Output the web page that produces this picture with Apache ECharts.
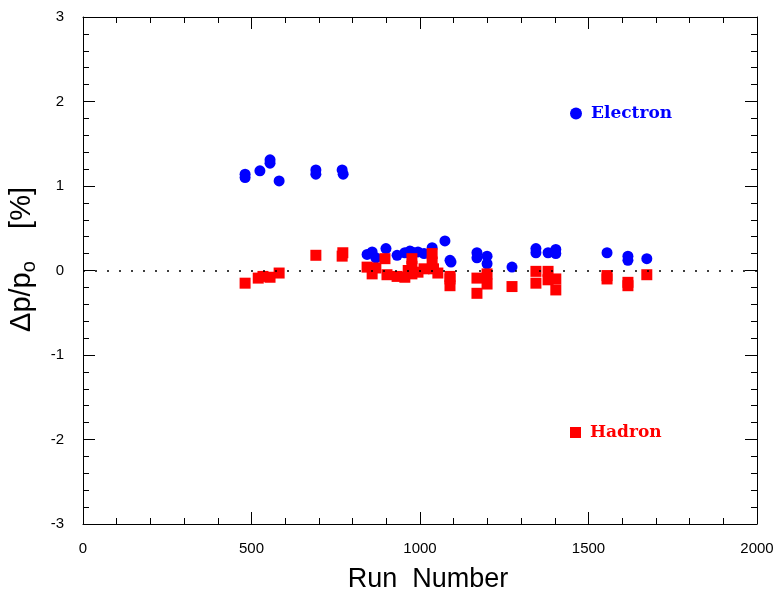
<!DOCTYPE html>
<html><head><meta charset="utf-8">
<script src="https://cdn.jsdelivr.net/npm/echarts@6/dist/echarts.min.js"></script>
<style>html,body{margin:0;padding:0;background:#fff}#c{width:784px;height:591px}</style>
</head><body><div id="c"></div>
<script>
var electronRuns = [481,481,525,555,555,582,691,691,769,772,843,858,869,899,932,955,970,976,994,1012,1036,1074,1089,1092,1169,1169,1199,1199,1273,1344,1344,1380,1403,1403,1555,1617,1617,1673];
var electronVals = [1.14,1.10,1.18,1.31,1.27,1.06,1.19,1.14,1.19,1.14,0.19,0.22,0.15,0.26,0.18,0.21,0.23,0.22,0.22,0.20,0.27,0.35,0.12,0.10,0.21,0.15,0.17,0.08,0.04,0.26,0.21,0.21,0.25,0.20,0.21,0.17,0.12,0.14];
var hadronRuns = [481,520,534,555,582,691,771,769,843,858,869,896,902,932,955,965,976,976,976,994,1012,1036,1036,1040,1053,1089,1089,1089,1169,1169,1199,1199,1273,1344,1344,1380,1380,1403,1403,1555,1555,1617,1617,1673];
var hadronVals = [-0.15,-0.09,-0.07,-0.08,-0.03,0.18,0.21,0.17,0.04,-0.04,0.03,0.14,-0.05,-0.07,-0.08,0.0,0.14,0.05,-0.04,-0.02,0.02,0.20,0.10,0.02,-0.03,-0.07,-0.18,-0.10,-0.09,-0.27,-0.04,-0.16,-0.19,-0.01,-0.15,-0.01,-0.11,-0.10,-0.23,-0.06,-0.10,-0.14,-0.18,-0.05];
var xTicks = [0,500,1000,1500,2000];
var yTicks = [-3,-2,-1,0,1,2,3];

function pairs(a,b){return a.map(function(v,i){return [v,b[i]];});}

var tickFont = {fontFamily:'Liberation Sans', fontSize:15, color:'#000'};
function xAx(pos, labels){
  return {type:'value', position:pos, min:xTicks[0], max:xTicks[xTicks.length-1], interval:500,
    axisLine:{show:true, onZero:false, lineStyle:{color:'#000', width:1}},
    axisTick:{show:true, inside:true, length:12, lineStyle:{color:'#000'}},
    minorTick:{show:true, splitNumber:5, length:6, lineStyle:{color:'#000'}},
    splitLine:{show:false}, minorSplitLine:{show:false},
    axisLabel:Object.assign({show:labels, margin:17, formatter:function(v){return String(v);}}, tickFont),
    name: labels ? 'Run  Number' : '', nameLocation:'middle', nameGap:42,
    nameTextStyle:{fontFamily:'Liberation Sans', fontSize:27, color:'#000', padding:[0,0,0,16]}};
}
function yAx(pos, labels){
  return {type:'value', position:pos, min:yTicks[0], max:yTicks[yTicks.length-1], interval:1,
    axisLine:{show:true, onZero:false, lineStyle:{color:'#000', width:1}},
    axisTick:{show:true, inside:true, length:12, lineStyle:{color:'#000'}},
    minorTick:{show:true, splitNumber:5, length:6, lineStyle:{color:'#000'}},
    splitLine:{show:false}, minorSplitLine:{show:false},
    axisLabel:Object.assign({show:labels, margin:19, formatter:function(v){return String(v);}}, tickFont),
    name: labels ? '{t|Δp/p}{s|o}{t|    [%]}' : '', nameLocation:'middle', nameGap:42, nameRotate:90,
    nameTextStyle:{padding:[0,0,0,22], rich:{t:{fontFamily:'Liberation Sans', fontSize:29, color:'#000'},
      s:{fontFamily:'Liberation Sans', fontSize:20, color:'#000', padding:[15,0,0,0]}}}};
}

var chart = echarts.init(document.getElementById('c'), null, {renderer:'canvas'});
chart.setOption({
  animation:false,
  backgroundColor:'#fff',
  grid:{left:83, right:27, top:17, bottom:67, containLabel:false, outerBoundsMode:'none'},
  xAxis:[xAx('bottom', true), xAx('top', false)],
  yAxis:[yAx('left', true), yAx('right', false)],
  legend:[
    {data:['Electron'], left:570, top:105, padding:0, icon:'circle', itemWidth:12, itemHeight:12, itemGap:0,
      textStyle:{fontFamily:'DejaVu Serif', fontWeight:'bold', fontSize:17, color:'#0000ff', padding:[0,0,0,4]}},
    {data:['Hadron'], left:570, top:424, padding:0, icon:'rect', itemWidth:11, itemHeight:11, itemGap:0,
      textStyle:{fontFamily:'DejaVu Serif', fontWeight:'bold', fontSize:17, color:'#ff0000', padding:[0,0,0,4]}}
  ],
  series:[
    {name:'Electron', type:'scatter', symbol:'circle', symbolSize:11, xAxisIndex:0, yAxisIndex:0,
      itemStyle:{color:'#0000ff', opacity:1}, data:pairs(electronRuns, electronVals),
      markLine:{silent:true, symbol:'none', label:{show:false},
        lineStyle:{color:'#000', type:[2,10], width:1.5}, data:[{yAxis:0}]}},
    {name:'Hadron', type:'scatter', symbol:'rect', symbolSize:11, xAxisIndex:0, yAxisIndex:0,
      itemStyle:{color:'#ff0000', opacity:1}, data:pairs(hadronRuns, hadronVals)}
  ]
});
</script></body></html>
